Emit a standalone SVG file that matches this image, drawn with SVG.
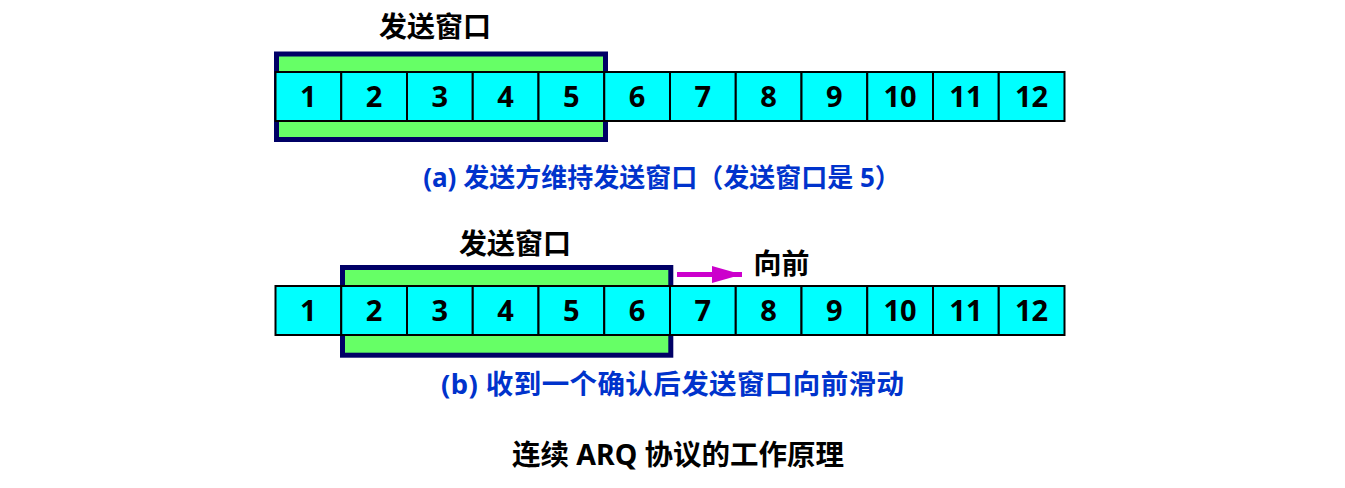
<svg xmlns="http://www.w3.org/2000/svg" width="1345" height="488" viewBox="0 0 1345 488">
<style>
.cell{fill:#00FFFF;stroke:#000;stroke-width:2}
.win{fill:#66FF66;stroke:#000066;stroke-width:5}
.num{font-family:"Noto Sans","Noto Sans CJK SC",sans-serif;font-weight:bold;font-size:29px;fill:#000;text-anchor:middle}
.lbl{font-family:"Noto Sans","Noto Sans CJK SC",sans-serif;font-weight:bold;font-size:28px;fill:#000;text-anchor:middle}
.cap{font-family:"Noto Sans","Noto Sans CJK SC",sans-serif;font-weight:bold;font-size:27.5px;fill:#0033CC;text-anchor:middle}
.title{font-family:"Noto Sans","Noto Sans CJK SC",sans-serif;font-weight:bold;font-size:28.5px;fill:#000;text-anchor:middle}
</style>
<defs>
<marker id="ah" markerWidth="6" markerHeight="3.4" refX="6" refY="1.7" orient="auto" markerUnits="strokeWidth">
<path d="M0,0 L6,1.7 L0,3.4 Z" fill="#CC00CC"/>
</marker>
</defs>
<g id="window-a">
<rect class="win" x="276.5" y="54" width="329" height="85.5"/>
<text class="lbl" x="435" y="37">发送窗口</text>
</g>
<g id="row-a">
<rect class="cell" x="275.5" y="72" width="65.75" height="49"/>
<rect class="cell" x="341.25" y="72" width="65.75" height="49"/>
<rect class="cell" x="407" y="72" width="65.75" height="49"/>
<rect class="cell" x="472.75" y="72" width="65.75" height="49"/>
<rect class="cell" x="538.5" y="72" width="65.75" height="49"/>
<rect class="cell" x="604.25" y="72" width="65.75" height="49"/>
<rect class="cell" x="670" y="72" width="65.75" height="49"/>
<rect class="cell" x="735.75" y="72" width="65.75" height="49"/>
<rect class="cell" x="801.5" y="72" width="65.75" height="49"/>
<rect class="cell" x="867.25" y="72" width="65.75" height="49"/>
<rect class="cell" x="933" y="72" width="65.75" height="49"/>
<rect class="cell" x="998.75" y="72" width="65.75" height="49"/>
<text class="num" x="308.4" y="107">1</text>
<text class="num" x="374.1" y="107">2</text>
<text class="num" x="439.9" y="107">3</text>
<text class="num" x="505.6" y="107">4</text>
<text class="num" x="571.4" y="107">5</text>
<text class="num" x="637.1" y="107">6</text>
<text class="num" x="702.9" y="107">7</text>
<text class="num" x="768.6" y="107">8</text>
<text class="num" x="834.4" y="107">9</text>
<text class="num" x="900.1" y="107">10</text>
<text class="num" x="965.9" y="107">11</text>
<text class="num" x="1031.6" y="107">12</text>
</g>
<g id="caption-a">
<text class="cap" x="662" y="187" style="font-size:26px">(a) 发送方维持发送窗口（发送窗口是 5）</text>
</g>
<g id="window-b">
<rect class="win" x="342.5" y="267.5" width="328.3" height="87.7"/>
<text class="lbl" x="515" y="254">发送窗口</text>
</g>
<g id="row-b">
<rect class="cell" x="275.5" y="286" width="65.75" height="49"/>
<rect class="cell" x="341.25" y="286" width="65.75" height="49"/>
<rect class="cell" x="407" y="286" width="65.75" height="49"/>
<rect class="cell" x="472.75" y="286" width="65.75" height="49"/>
<rect class="cell" x="538.5" y="286" width="65.75" height="49"/>
<rect class="cell" x="604.25" y="286" width="65.75" height="49"/>
<rect class="cell" x="670" y="286" width="65.75" height="49"/>
<rect class="cell" x="735.75" y="286" width="65.75" height="49"/>
<rect class="cell" x="801.5" y="286" width="65.75" height="49"/>
<rect class="cell" x="867.25" y="286" width="65.75" height="49"/>
<rect class="cell" x="933" y="286" width="65.75" height="49"/>
<rect class="cell" x="998.75" y="286" width="65.75" height="49"/>
<text class="num" x="308.4" y="321">1</text>
<text class="num" x="374.1" y="321">2</text>
<text class="num" x="439.9" y="321">3</text>
<text class="num" x="505.6" y="321">4</text>
<text class="num" x="571.4" y="321">5</text>
<text class="num" x="637.1" y="321">6</text>
<text class="num" x="702.9" y="321">7</text>
<text class="num" x="768.6" y="321">8</text>
<text class="num" x="834.4" y="321">9</text>
<text class="num" x="900.1" y="321">10</text>
<text class="num" x="965.9" y="321">11</text>
<text class="num" x="1031.6" y="321">12</text>
</g>
<g id="connectors">
<line x1="677" y1="274.5" x2="742" y2="274.5" stroke="#CC00CC" stroke-width="5" marker-end="url(#ah)"/>
</g>
<g id="label-forward">
<text class="lbl" x="781.5" y="274">向前</text>
</g>
<g id="caption-b">
<text class="cap" x="672.5" y="394" textLength="463" lengthAdjust="spacing">(b) 收到一个确认后发送窗口向前滑动</text>
</g>
<g id="title">
<text class="title" x="678" y="465" textLength="332" lengthAdjust="spacing">连续 ARQ 协议的工作原理</text>
</g>
</svg>
